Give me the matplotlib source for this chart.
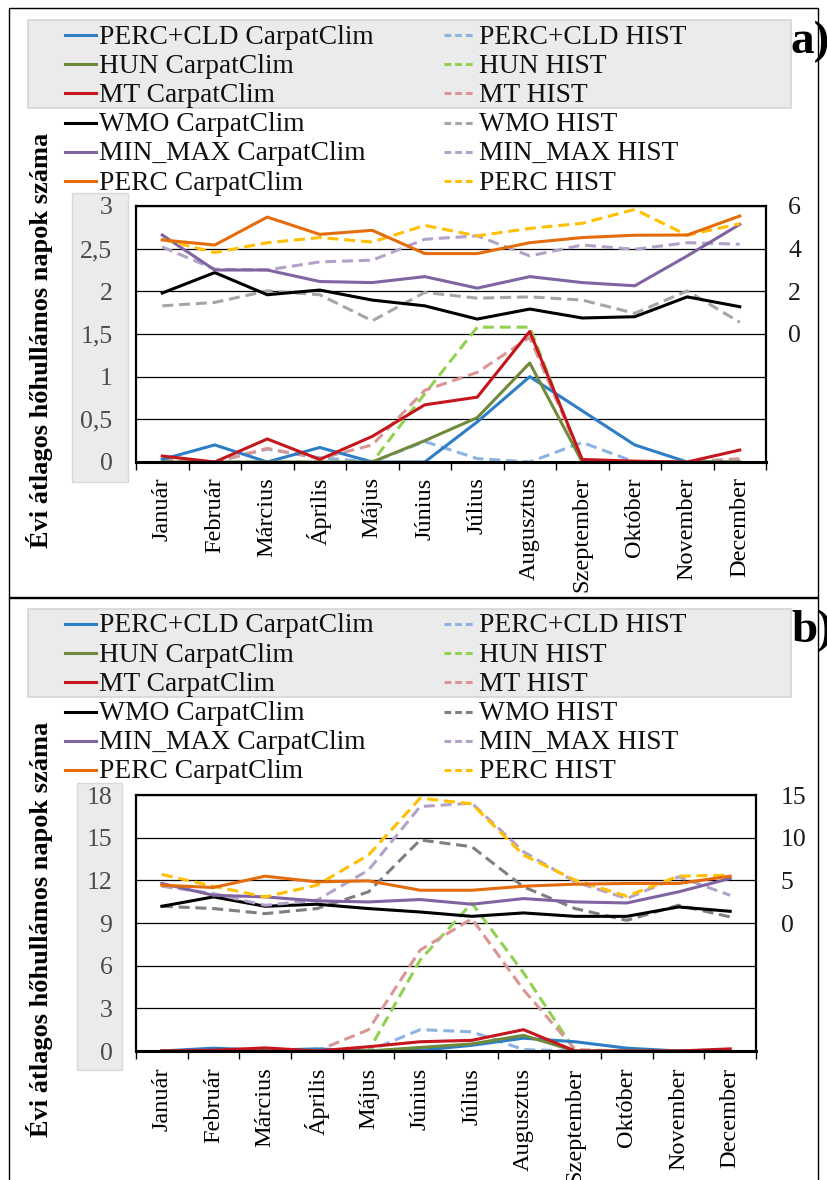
import numpy as np
import matplotlib
matplotlib.use('Agg')
import matplotlib.pyplot as plt
from matplotlib.lines import Line2D
from matplotlib.patches import Rectangle

plt.rcParams['font.family'] = ['Liberation Serif', 'DejaVu Serif']

W, H = 828, 1180

months = ['Január', 'Február', 'Március', 'Április', 'Május', 'Június',
          'Július', 'Augusztus', 'Szeptember', 'Október', 'November', 'December']

# panel a) - left axis (0-3)
a_pcld_cc = [0.03, 0.20, 0.00, 0.17, 0.00, 0.00, 0.47, 1.00, 0.60, 0.20, 0.00, 0.00]
a_pcld_hist = [0.02, 0.00, 0.15, 0.05, 0.00, 0.24, 0.04, 0.00, 0.23, 0.00, 0.00, 0.00]
a_hun_cc = [0.00, 0.00, 0.00, 0.00, 0.00, 0.25, 0.52, 1.16, 0.00, 0.00, 0.00, 0.00]
a_hun_hist = [0.00, 0.00, 0.00, 0.00, 0.00, 0.80, 1.58, 1.58, 0.00, 0.00, 0.00, 0.00]
a_mt_cc = [0.07, 0.00, 0.27, 0.03, 0.30, 0.67, 0.76, 1.53, 0.03, 0.01, 0.00, 0.14]
a_mt_hist = [0.04, 0.00, 0.16, 0.04, 0.20, 0.84, 1.05, 1.46, 0.02, 0.00, 0.00, 0.04]
# panel a) - right axis
a_wmo_cc = [1.92, 2.88, 1.84, 2.06, 1.59, 1.32, 0.70, 1.17, 0.75, 0.81, 1.74, 1.28]
a_wmo_hist = [1.32, 1.48, 2.02, 1.84, 0.62, 1.95, 1.68, 1.74, 1.59, 0.97, 2.02, 0.55]
a_mm_cc = [4.64, 3.00, 3.00, 2.46, 2.41, 2.69, 2.15, 2.69, 2.41, 2.26, 3.66, 5.14]
a_mm_hist = [4.08, 3.04, 3.00, 3.38, 3.46, 4.44, 4.60, 3.66, 4.17, 3.97, 4.28, 4.21]
a_perc_cc = [4.41, 4.17, 5.48, 4.67, 4.86, 3.77, 3.77, 4.28, 4.52, 4.63, 4.64, 5.53]
a_perc_hist = [4.44, 3.82, 4.28, 4.52, 4.31, 5.09, 4.60, 4.95, 5.19, 5.84, 4.63, 5.17]

# panel b) - left axis (0-18)
b_pcld_cc = [0.00, 0.20, 0.05, 0.15, 0.00, 0.05, 0.40, 0.90, 0.65, 0.20, 0.00, 0.00]
b_pcld_hist = [0.00, 0.00, 0.00, 0.00, 0.00, 1.50, 1.35, 0.10, 0.00, 0.00, 0.00, 0.00]
b_hun_cc = [0.00, 0.00, 0.00, 0.00, 0.00, 0.25, 0.50, 1.10, 0.00, 0.00, 0.00, 0.00]
b_hun_hist = [0.00, 0.00, 0.00, 0.00, 0.00, 6.40, 10.40, 5.50, 0.00, 0.00, 0.00, 0.00]
b_mt_cc = [0.00, 0.05, 0.22, 0.00, 0.30, 0.65, 0.75, 1.50, 0.00, 0.00, 0.00, 0.15]
b_mt_hist = [0.00, 0.00, 0.00, 0.00, 1.50, 7.10, 9.30, 4.30, 0.10, 0.00, 0.00, 0.10]
# panel b) - right axis
b_wmo_cc = [1.96, 3.06, 1.96, 2.20, 1.69, 1.29, 0.78, 1.18, 0.78, 0.78, 1.88, 1.37]
b_wmo_hist = [1.96, 1.69, 1.10, 1.69, 3.65, 9.73, 8.94, 4.24, 1.69, 0.31, 2.08, 0.71]
b_mm_cc = [4.63, 3.25, 3.06, 2.59, 2.47, 2.75, 2.20, 2.86, 2.47, 2.35, 3.65, 5.22]
b_mm_hist = [4.31, 3.45, 2.08, 2.67, 6.20, 13.65, 14.04, 8.35, 4.82, 2.86, 5.41, 3.25]
b_perc_cc = [4.43, 4.16, 5.49, 4.82, 4.94, 3.84, 3.84, 4.31, 4.55, 4.63, 4.63, 5.49]
b_perc_hist = [5.69, 4.31, 3.06, 4.43, 7.96, 14.63, 13.96, 7.96, 5.02, 3.14, 5.49, 5.61]

names = ['PERC+CLD', 'HUN', 'MT', 'WMO', 'MIN_MAX', 'PERC']
cc_colors = ['#2e7ec6', '#6f8a3a', '#c4161c', '#000000', '#8064a2', '#e46c0a']
hist_colors = ['#8db3e2', '#92d050', '#d99694', '#a6a6a6', '#b3a2c7', '#ffc000']

DASH = (0, (3.6, 1.9))
LW = 2.2


def fx(x):
    return x / W


def fy(y):
    return 1 - y / H


def fmt(v):
    s = ('%g' % v).replace('.', ',')
    return s


def panel(fig, off, right_px, left_cc, left_hist, right_cc, right_hist,
          lticks, rlim, rticks, wmo_hist_col, tag, lbox, rpad, xpad):
    # frame around the panel
    fig.add_artist(Rectangle((fx(9), fy(off + 598)), fx(818 - 9), 590 / H,
                             fill=False, ec='black', lw=1.0, transform=fig.transFigure))

    # legend
    fig.add_artist(Rectangle((fx(28), fy(off + 108)), fx(791 - 28), 88 / H,
                             fc='#ebebeb', ec='#d6d6d6', lw=1.2, zorder=-2,
                             transform=fig.transFigure))
    hcols = list(hist_colors)
    hcols[3] = wmo_hist_col
    for i, nm in enumerate(names):
        yc = off + 35 + 29.2 * i
        fig.add_artist(Line2D([fx(65), fx(96)], [fy(yc), fy(yc)], color=cc_colors[i],
                              lw=LW, transform=fig.transFigure))
        fig.text(fx(99), fy(yc + 8.5), nm + ' CarpatClim', fontsize=19.8, va='baseline', color='#111111')
        fig.add_artist(Line2D([fx(444), fx(476)], [fy(yc), fy(yc)], color=hcols[i],
                              lw=LW, ls=(0, (2.2, 1.3)), transform=fig.transFigure))
        fig.text(fx(479), fy(yc + 8.5), nm + ' HIST', fontsize=19.8, va='baseline', color='#111111')

    fig.text(fx(791), fy(off + 53), tag, fontsize=34, fontweight='bold', va='baseline')

    # grey box behind left tick labels
    fig.add_artist(Rectangle((fx(lbox[0]), fy(off + lbox[3])), fx(lbox[1] - lbox[0]),
                             (lbox[3] - lbox[2]) / H, fc='#ebebeb', ec='#d9d9d9', lw=1.0,
                             zorder=-2, transform=fig.transFigure))

    top, bot = off + 206, off + 462
    ax = fig.add_axes([fx(136), fy(bot), fx(right_px - 136), (bot - top) / H])
    ax2 = ax.twinx()
    x = np.arange(12)

    for i in range(3):
        ax.plot(x, left_hist[i], color=hcols[i], lw=LW, ls=DASH)
    for i in range(3):
        ax.plot(x, left_cc[i], color=cc_colors[i], lw=LW)
    for i in range(3):
        ax2.plot(x, right_hist[i], color=hcols[i + 3], lw=LW, ls=DASH)
        ax2.plot(x, right_cc[i], color=cc_colors[i + 3], lw=LW)

    ax.set_xlim(-0.5, 11.5)
    ax.set_ylim(lticks[0], lticks[-1])
    ax.set_yticks(lticks)
    ax.set_yticklabels([fmt(v) for v in lticks])
    ax.grid(axis='y', color='black', lw=0.9)
    ax.set_axisbelow(True)
    ax.tick_params(axis='y', length=0, pad=rpad[0], labelsize=18.5, labelcolor='#4a4a4a')
    ax.set_xticks(x)
    ax.set_xticklabels(months, rotation=90, fontsize=17.5, va='top')
    ax.set_xticks(np.arange(-0.5, 12, 1), minor=True)
    ax.tick_params(axis='x', which='major', length=0, pad=xpad)
    ax.tick_params(axis='x', which='minor', length=6, width=1.0, direction='out')
    for s in ax.spines.values():
        s.set_linewidth(1.6)
    ax.spines['bottom'].set_linewidth(2.2)

    ax2.set_ylim(*rlim)
    ax2.set_yticks(rticks)
    ax2.set_yticklabels([fmt(v) for v in rticks])
    ax2.tick_params(axis='y', length=0, pad=rpad[1], labelsize=18.5, labelcolor='#1a1a1a')
    for s in ax2.spines.values():
        s.set_visible(False)

    fig.text(fx(40), fy(off + 340), 'Évi átlagos hőhullámos napok száma', rotation=90,
             fontsize=19, fontweight='bold', ha='center', va='center')


fig = plt.figure(figsize=(W / 100, H / 100), dpi=100)

panel(fig, 0, 766,
      [a_pcld_cc, a_hun_cc, a_mt_cc], [a_pcld_hist, a_hun_hist, a_mt_hist],
      [a_wmo_cc, a_mm_cc, a_perc_cc], [a_wmo_hist, a_mm_hist, a_perc_hist],
      [0, 0.5, 1, 1.5, 2, 2.5, 3], (-6, 6), [0, 2, 4, 6], '#a6a6a6', 'a)',
      (72, 128, 193, 482), (17, 16), 11)

panel(fig, 589, 756,
      [b_pcld_cc, b_hun_cc, b_mt_cc], [b_pcld_hist, b_hun_hist, b_mt_hist],
      [b_wmo_cc, b_mm_cc, b_perc_cc], [b_wmo_hist, b_mm_hist, b_perc_hist],
      [0, 3, 6, 9, 12, 15, 18], (-15, 15), [0, 5, 10, 15], '#7f7f7f', 'b)',
      (77, 122, 194, 481), (17, 18), 12)

fig.savefig('out.png', dpi=100)
